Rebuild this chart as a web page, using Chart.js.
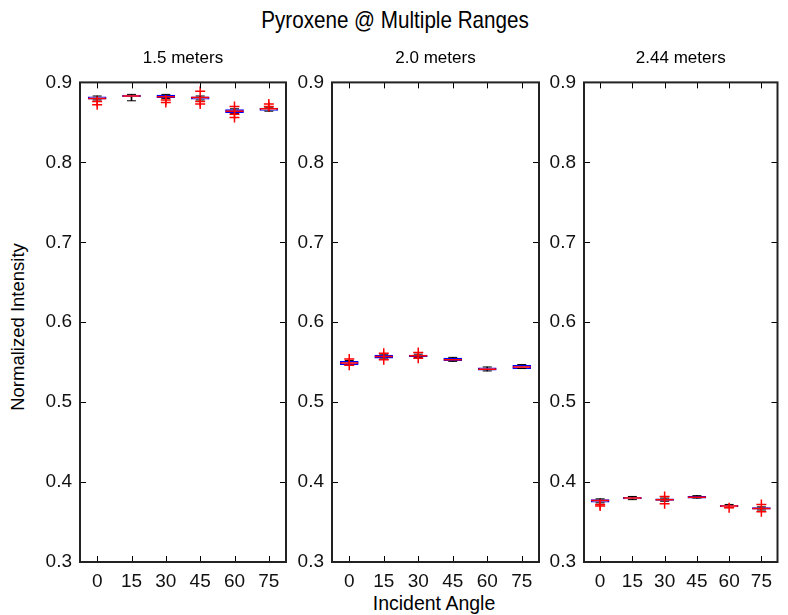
<!DOCTYPE html>
<html>
<head>
<meta charset="UTF-8">
<title>Pyroxene @ Multiple Ranges</title>
<script src="https://cdn.jsdelivr.net/npm/chart.js@4.4.0/dist/chart.umd.min.js"></script>
<style>
  body { margin: 0; background: #fff; }
  #wrap { position: relative; width: 788px; height: 615px; font-family: "Liberation Sans", Arial, sans-serif; color: #000; }
  #wrap canvas { position: absolute; left: 0; top: 0; }
  .lbl { position: absolute; white-space: nowrap; transform: translate(-50%, -50%); }
  #mainTitle { left: 395px; top: 20px; font-size: 24px; transform: translate(-50%, -50%) scaleX(0.86); }
  #yLabel { left: 18px; top: 327px; font-size: 18.5px; transform: translate(-50%, -50%) rotate(-90deg); }
  #xLabel { left: 434px; top: 603px; font-size: 19.5px; }
</style>
</head>
<body>
<div id="wrap">
  <div class="lbl" id="mainTitle">Pyroxene @ Multiple Ranges</div>
  <div class="lbl" id="yLabel">Normalized Intensity</div>
  <div class="lbl" id="xLabel">Incident Angle</div>
  <canvas id="c0" width="788" height="615"></canvas>
  <canvas id="c1" width="788" height="615"></canvas>
  <canvas id="c2" width="788" height="615"></canvas>
</div>
<script>
var angles = ['0', '15', '30', '45', '60', '75'];
var ranges = ['1.5 meters', '2.0 meters', '2.44 meters'];

// box plot statistics, one row per range
var lowerWhisker = [
  [0.878, 0.877, 0.880, 0.878, 0.861, 0.864],
  [0.546, 0.554, 0.556, 0.551, 0.539, 0.542],
  [0.374, 0.378, 0.376, 0.380, 0.368, 0.365]
];
var q1 = [
  [0.879, 0.882, 0.881, 0.879, 0.862, 0.865],
  [0.547, 0.555, 0.557, 0.552, 0.540, 0.542],
  [0.375, 0.379, 0.377, 0.380, 0.369, 0.366]
];
var medians = [
  [0.880, 0.883, 0.882, 0.881, 0.864, 0.867],
  [0.549, 0.557, 0.558, 0.553, 0.541, 0.544],
  [0.377, 0.380, 0.378, 0.381, 0.370, 0.367]
];
var q3 = [
  [0.882, 0.884, 0.884, 0.882, 0.866, 0.868],
  [0.551, 0.559, 0.559, 0.555, 0.543, 0.546],
  [0.378, 0.381, 0.379, 0.382, 0.371, 0.368]
];
var upperWhisker = [
  [0.883, 0.885, 0.885, 0.883, 0.867, 0.869],
  [0.552, 0.560, 0.560, 0.556, 0.544, 0.547],
  [0.379, 0.382, 0.380, 0.383, 0.372, 0.369]
];
var outliers = [
  [[0.876, 0.872], [], [0.878, 0.875], [0.889, 0.876, 0.873], [0.870, 0.860, 0.856], [0.873, 0.870]],
  [[0.554, 0.546], [0.561, 0.553], [0.562, 0.555], [], [], []],
  [[0.372, 0.370], [], [0.382, 0.373], [], [0.368], [0.372, 0.363]]
];

// chart area edges of each panel, in page pixels
var panelLeft = [80, 332, 584];
var panelRight = [286, 539, 785];
var plotTop = 80, plotBottom = 562;
var yAxisWidth = 45, xAxisHeight = 40;

var tickFont = { family: '"Liberation Sans", Arial, sans-serif', size: 19 };

// frame around the plot plus MATLAB style inward ticks
var frameTicks = {
  id: 'frameTicks',
  afterDraw: function(chart) {
    var ctx = chart.ctx, a = chart.chartArea;
    var x = chart.scales.x, y = chart.scales.y;
    ctx.save();
    ctx.strokeStyle = '#000';
    ctx.lineWidth = 1;
    ctx.beginPath();
    for (var i = 0; i < x.ticks.length; i++) {
      var px = Math.round(x.getPixelForTick(i)) + 0.5;
      ctx.moveTo(px, a.bottom); ctx.lineTo(px, a.bottom - 6);
      ctx.moveTo(px, a.top); ctx.lineTo(px, a.top + 6);
    }
    for (var j = 0; j < y.ticks.length; j++) {
      var py = Math.round(y.getPixelForTick(j)) + 0.5;
      ctx.moveTo(a.left, py); ctx.lineTo(a.left + 6, py);
      ctx.moveTo(a.right, py); ctx.lineTo(a.right - 6, py);
    }
    ctx.stroke();
    ctx.strokeStyle = '#222';
    ctx.lineWidth = 2;
    ctx.strokeRect(a.left, a.top, a.right - a.left, a.bottom - a.top);
    ctx.restore();
  }
};

function pointsFor(p, arr) {
  return angles.map(function(a, i) { return { x: a, y: arr[p][i] }; });
}

function makePanel(p) {
  var outPts = [];
  outliers[p].forEach(function(list, i) {
    list.forEach(function(v) { outPts.push({ x: angles[i], y: v }); });
  });
  var whiskers = angles.map(function(a, i) { return [lowerWhisker[p][i], upperWhisker[p][i]]; });
  var boxes = angles.map(function(a, i) { return [q1[p][i], q3[p][i]]; });

  return new Chart(document.getElementById('c' + p), {
    type: 'bar',
    data: {
      labels: angles,
      datasets: [
        { type: 'bar', data: whiskers, grouped: false, barThickness: 1,
          backgroundColor: '#000', borderWidth: 0, order: 5 },
        { type: 'bar', data: boxes, grouped: false, barThickness: 18,
          backgroundColor: '#fff', borderColor: '#0000ff', borderWidth: 1.5,
          borderSkipped: false, order: 4 },
        { type: 'line', data: pointsFor(p, lowerWhisker), showLine: false,
          pointStyle: 'line', pointRadius: 4.5, borderColor: '#000', borderWidth: 1, order: 3 },
        { type: 'line', data: pointsFor(p, upperWhisker), showLine: false,
          pointStyle: 'line', pointRadius: 4.5, borderColor: '#000', borderWidth: 1, order: 3 },
        { type: 'line', data: pointsFor(p, medians), showLine: false,
          pointStyle: 'line', pointRadius: 9, borderColor: '#ff0000', borderWidth: 1.5, order: 2 },
        { type: 'line', data: outPts, showLine: false,
          pointStyle: 'cross', pointRadius: 5, borderColor: '#ff0000', borderWidth: 1.5, order: 1 }
      ]
    },
    options: {
      responsive: false,
      animation: false,
      events: [],
      layout: {
        padding: { left: panelLeft[p] - yAxisWidth, right: 788 - panelRight[p], top: 40,
                   bottom: 615 - plotBottom - xAxisHeight }
      },
      plugins: {
        legend: { display: false },
        tooltip: { enabled: false },
        title: {
          display: true, text: ranges[p], fullSize: false, color: '#000',
          font: { family: tickFont.family, size: 17, weight: 'normal' },
          padding: { top: 8, bottom: 14 }
        }
      },
      scales: {
        x: {
          type: 'category', offset: true,
          grid: { display: false, drawTicks: false },
          border: { display: false },
          ticks: { color: '#111', font: tickFont, padding: 8, maxRotation: 0 },
          afterFit: function(s) { s.height = xAxisHeight; }
        },
        y: {
          min: 0.3, max: 0.9,
          grid: { display: false, drawTicks: false },
          border: { display: false },
          ticks: { stepSize: 0.1, color: '#111', font: tickFont, padding: 8,
                   callback: function(v) { return v.toFixed(1); } },
          afterFit: function(s) { s.width = yAxisWidth; }
        }
      }
    },
    plugins: [frameTicks]
  });
}

for (var p = 0; p < 3; p++) makePanel(p);
</script>
</body>
</html>
